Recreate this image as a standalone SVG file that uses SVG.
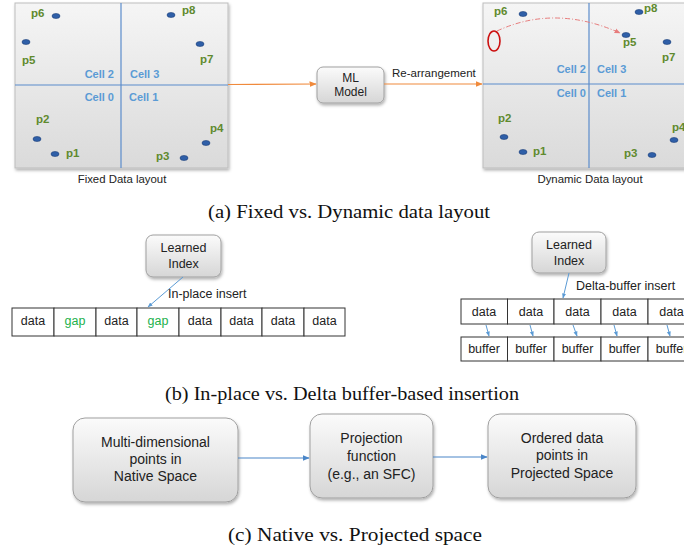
<svg xmlns="http://www.w3.org/2000/svg" width="684" height="554" viewBox="0 0 684 554">
<defs>
  <linearGradient id="panelGrad" x1="0" y1="0" x2="0" y2="1">
    <stop offset="0" stop-color="#f5f5f5"/>
    <stop offset="1" stop-color="#dadada"/>
  </linearGradient>
  <linearGradient id="nodeGrad" x1="0" y1="0" x2="0" y2="1">
    <stop offset="0" stop-color="#fbfbfb"/>
    <stop offset="1" stop-color="#d6d6d6"/>
  </linearGradient>
  <filter id="shadow" x="-10%" y="-10%" width="125%" height="130%">
    <feDropShadow dx="1" dy="2" stdDeviation="1.5" flood-color="#000" flood-opacity="0.3"/>
  </filter>
  <marker id="arrOrange" viewBox="0 0 10 10" refX="9" refY="5" markerWidth="6" markerHeight="6" orient="auto">
    <path d="M0,1 L10,5 L0,9 z" fill="#f08a3c"/>
  </marker>
  <marker id="arrBlue" viewBox="0 0 10 10" refX="9" refY="5" markerWidth="6" markerHeight="6" orient="auto">
    <path d="M0,1 L10,5 L0,9 z" fill="#4a86c8"/>
  </marker>
  <marker id="arrBlueS" viewBox="0 0 10 10" refX="9" refY="5" markerWidth="5" markerHeight="5" orient="auto">
    <path d="M0,1 L10,5 L0,9 z" fill="#5b9bd5"/>
  </marker>
  <marker id="arrPink" viewBox="0 0 10 10" refX="9" refY="5" markerWidth="6" markerHeight="6" orient="auto">
    <path d="M0,1 L10,5 L0,9 z" fill="#e77c7c"/>
  </marker>
  <style>
    .panel { fill: url(#panelGrad); stroke: #bdbdbd; stroke-width: 1; filter: url(#shadow); }
    .grid { stroke: #5b8ccc; stroke-width: 1.2; }
    .dot { fill: #2f5fa8; stroke: #1d3f78; stroke-width: 0.6; }
    .plab { font-family: "Liberation Sans", Arial, sans-serif; font-size: 11.5px; font-weight: bold; fill: #5f8a2e; }
    .clab { font-family: "Liberation Sans", Arial, sans-serif; font-size: 11px; font-weight: bold; fill: #5b9bd5; }
    .end { text-anchor: end; }
    .sub { font-family: "Liberation Sans", Arial, sans-serif; font-size: 11.4px; fill: #222; text-anchor: middle; }
    .node { fill: url(#nodeGrad); stroke: #a0a0a0; stroke-width: 1; filter: url(#shadow); }
    .ntxt { font-family: "Liberation Sans", Arial, sans-serif; font-size: 12px; fill: #222; text-anchor: middle; }
    .btxt { font-family: "Liberation Sans", Arial, sans-serif; font-size: 14px; fill: #222; text-anchor: middle; }
    .lbl { font-family: "Liberation Sans", Arial, sans-serif; font-size: 11.5px; fill: #222; }
    .lbl2 { font-family: "Liberation Sans", Arial, sans-serif; font-size: 12.5px; fill: #222; }
    .cell { fill: #ffffff; stroke: #333; stroke-width: 1; }
    .ctxt { font-family: "Liberation Sans", Arial, sans-serif; font-size: 12.5px; fill: #222; text-anchor: middle; }
    .gap { fill: #22b14c; }
    .cap { font-family: "Liberation Serif", "Times New Roman", serif; font-size: 18px; fill: #111; }
    .orange { stroke: #f08a3c; stroke-width: 1.2; fill: none; }
    .blue { stroke: #4a86c8; stroke-width: 1.2; fill: none; }
    .blueS { stroke: #5b9bd5; stroke-width: 1; fill: none; }
  </style>
</defs>

<!-- (a) Fixed data layout -->
<g id="fixed-layout">
  <rect class="panel" x="15" y="3" width="213" height="165"/>
  <line class="grid" x1="121" y1="3" x2="121" y2="168"/>
  <line class="grid" x1="15" y1="85" x2="228" y2="85"/>
  <text class="clab end" x="114" y="78">Cell 2</text>
  <text class="clab" x="130" y="78">Cell 3</text>
  <text class="clab end" x="114" y="101">Cell 0</text>
  <text class="clab" x="129" y="101">Cell 1</text>
  <ellipse class="dot" cx="56" cy="16" rx="4" ry="2.5"/><text class="plab" x="31" y="17">p6</text>
  <ellipse class="dot" cx="26" cy="42" rx="4" ry="2.5"/><text class="plab" x="22" y="64">p5</text>
  <ellipse class="dot" cx="171" cy="15" rx="4" ry="2.5"/><text class="plab" x="182" y="14">p8</text>
  <ellipse class="dot" cx="200" cy="44" rx="4" ry="2.5"/><text class="plab" x="200" y="63">p7</text>
  <ellipse class="dot" cx="37" cy="139" rx="4" ry="2.5"/><text class="plab" x="36" y="123">p2</text>
  <ellipse class="dot" cx="55" cy="154" rx="4" ry="2.5"/><text class="plab" x="66" y="157">p1</text>
  <ellipse class="dot" cx="206" cy="143" rx="4" ry="2.5"/><text class="plab" x="210" y="132">p4</text>
  <ellipse class="dot" cx="184" cy="158" rx="4" ry="2.5"/><text class="plab" x="156" y="160">p3</text>
  <text class="sub" x="122" y="183">Fixed Data layout</text>
</g>

<!-- ML model -->
<g id="ml-model">
  <rect class="node" x="317" y="67" width="67" height="36" rx="6"/>
  <text class="ntxt" x="350.5" y="82">ML</text>
  <text class="ntxt" x="350.5" y="96">Model</text>
</g>

<!-- (a) Dynamic data layout -->
<g id="dynamic-layout">
  <rect class="panel" x="483" y="3" width="220" height="165"/>
  <line class="grid" x1="589" y1="3" x2="589" y2="168"/>
  <line class="grid" x1="483" y1="84" x2="684" y2="84"/>
  <text class="clab end" x="586" y="73">Cell 2</text>
  <text class="clab" x="597" y="73">Cell 3</text>
  <text class="clab end" x="586" y="97">Cell 0</text>
  <text class="clab" x="597" y="97">Cell 1</text>
  <ellipse class="dot" cx="523" cy="14" rx="4" ry="2.5"/><text class="plab" x="494" y="15">p6</text>
  <ellipse cx="494" cy="41" rx="6" ry="10" fill="none" stroke="#cc1111" stroke-width="1.6"/>
  <path d="M497,31 Q555,4 620,33" fill="none" stroke="#e77c7c" stroke-width="1" stroke-dasharray="5,2,1,2" marker-end="url(#arrPink)"/>
  <ellipse class="dot" cx="626" cy="35" rx="4" ry="2.5"/><text class="plab" x="623" y="46">p5</text>
  <ellipse class="dot" cx="639" cy="12" rx="4" ry="2.5"/><text class="plab" x="644" y="12">p8</text>
  <ellipse class="dot" cx="667" cy="42" rx="4" ry="2.5"/><text class="plab" x="662" y="61">p7</text>
  <ellipse class="dot" cx="504" cy="137" rx="4" ry="2.5"/><text class="plab" x="498" y="122">p2</text>
  <ellipse class="dot" cx="523" cy="152" rx="4" ry="2.5"/><text class="plab" x="533" y="155">p1</text>
  <ellipse class="dot" cx="674" cy="140" rx="4" ry="2.5"/><text class="plab" x="672" y="131">p4</text>
  <ellipse class="dot" cx="652" cy="155" rx="4" ry="2.5"/><text class="plab" x="624" y="157">p3</text>
  <text class="sub" x="590" y="183">Dynamic Data layout</text>
</g>

<!-- (b) Left learned index -->
<g id="learned-index-left">
  <rect class="node" x="146" y="235" width="75" height="42" rx="7"/>
  <text class="ctxt" x="183.5" y="252">Learned</text>
  <text class="ctxt" x="183.5" y="268">Index</text>
</g>
<g id="inplace-array">
  <rect class="cell" x="12" y="308" width="42" height="28"/>
  <rect class="cell" x="54" y="308" width="42" height="28"/>
  <rect class="cell" x="96" y="308" width="41" height="28"/>
  <rect class="cell" x="137" y="308" width="42" height="28"/>
  <rect class="cell" x="179" y="308" width="42" height="28"/>
  <rect class="cell" x="221" y="308" width="41" height="28"/>
  <rect class="cell" x="262" y="308" width="42" height="28"/>
  <rect class="cell" x="304" y="308" width="41" height="28"/>
  <text class="ctxt" x="33" y="325">data</text>
  <text class="ctxt gap" x="75" y="325">gap</text>
  <text class="ctxt" x="116.5" y="325">data</text>
  <text class="ctxt gap" x="158" y="325">gap</text>
  <text class="ctxt" x="200" y="325">data</text>
  <text class="ctxt" x="241.5" y="325">data</text>
  <text class="ctxt" x="283" y="325">data</text>
  <text class="ctxt" x="324.5" y="325">data</text>
</g>

<!-- (b) Right learned index -->
<g id="learned-index-right">
  <rect class="node" x="532" y="232" width="74" height="41" rx="7"/>
  <text class="ctxt" x="569" y="249">Learned</text>
  <text class="ctxt" x="569" y="265">Index</text>
</g>
<g id="delta-array">
  <rect class="cell" x="461" y="299" width="46.5" height="25"/>
  <rect class="cell" x="507.5" y="299" width="46.5" height="25"/>
  <rect class="cell" x="554" y="299" width="47" height="25"/>
  <rect class="cell" x="601" y="299" width="47" height="25"/>
  <rect class="cell" x="648" y="299" width="47" height="25"/>
  <text class="ctxt" x="484" y="316">data</text>
  <text class="ctxt" x="531" y="316">data</text>
  <text class="ctxt" x="577.5" y="316">data</text>
  <text class="ctxt" x="624.5" y="316">data</text>
  <text class="ctxt" x="671.5" y="316">data</text>
</g>
<g id="buffer-array">
  <rect class="cell" x="461" y="337" width="46.5" height="24"/>
  <rect class="cell" x="507.5" y="337" width="46.5" height="24"/>
  <rect class="cell" x="554" y="337" width="47" height="24"/>
  <rect class="cell" x="601" y="337" width="47" height="24"/>
  <rect class="cell" x="648" y="337" width="47" height="24"/>
  <text class="ctxt" x="484" y="353">buffer</text>
  <text class="ctxt" x="531" y="353">buffer</text>
  <text class="ctxt" x="577.5" y="353">buffer</text>
  <text class="ctxt" x="624.5" y="353">buffer</text>
  <text class="ctxt" x="671.5" y="353">buffer</text>
</g>

<!-- (c) nodes -->
<g id="native-space">
  <rect class="node" x="73" y="418" width="165" height="84" rx="12"/>
  <text class="btxt" x="155.5" y="447">Multi-dimensional</text>
  <text class="btxt" x="155.5" y="464">points in</text>
  <text class="btxt" x="155.5" y="481">Native Space</text>
</g>
<g id="projection-function">
  <rect class="node" x="310" y="414" width="123" height="84" rx="12"/>
  <text class="btxt" x="371.5" y="443">Projection</text>
  <text class="btxt" x="371.5" y="461">function</text>
  <text class="btxt" x="371.5" y="479">(e.g., an SFC)</text>
</g>
<g id="projected-space">
  <rect class="node" x="488" y="414" width="148" height="84" rx="12"/>
  <text class="btxt" x="562" y="443">Ordered data</text>
  <text class="btxt" x="562" y="460">points in</text>
  <text class="btxt" x="562" y="478">Projected Space</text>
</g>

<!-- connectors -->
<g id="connectors">
  <line class="orange" x1="228" y1="84.5" x2="316" y2="84" marker-end="url(#arrOrange)"/>
  <line class="orange" x1="384" y1="84" x2="482" y2="84" marker-end="url(#arrOrange)"/>
  <text class="lbl" x="392" y="77">Re-arrangement</text>
  <line class="blueS" x1="183" y1="277" x2="148" y2="307" marker-end="url(#arrBlueS)"/>
  <text class="lbl2" x="168" y="298">In-place insert</text>
  <line class="blueS" x1="569" y1="273" x2="563" y2="298" marker-end="url(#arrBlueS)"/>
  <text class="lbl2" x="576" y="290">Delta-buffer insert</text>
  <line class="blueS" x1="486" y1="325" x2="489" y2="336" marker-end="url(#arrBlueS)"/>
  <line class="blueS" x1="530" y1="325" x2="533" y2="336" marker-end="url(#arrBlueS)"/>
  <line class="blueS" x1="573" y1="325" x2="577" y2="336" marker-end="url(#arrBlueS)"/>
  <line class="blueS" x1="614" y1="325" x2="617" y2="336" marker-end="url(#arrBlueS)"/>
  <line class="blueS" x1="667" y1="325" x2="670" y2="336" marker-end="url(#arrBlueS)"/>
  <line class="blue" x1="238" y1="458" x2="309" y2="458" marker-end="url(#arrBlue)"/>
  <line class="blue" x1="433" y1="457" x2="487" y2="457" marker-end="url(#arrBlue)"/>
</g>

<!-- captions -->
<text class="cap" x="208" y="218" textLength="282" lengthAdjust="spacingAndGlyphs">(a) Fixed vs. Dynamic data layout</text>
<text class="cap" x="165" y="400" textLength="354" lengthAdjust="spacingAndGlyphs">(b) In-place vs. Delta buffer-based insertion</text>
<text class="cap" x="228" y="541" textLength="254" lengthAdjust="spacingAndGlyphs">(c) Native vs. Projected space</text>
</svg>
